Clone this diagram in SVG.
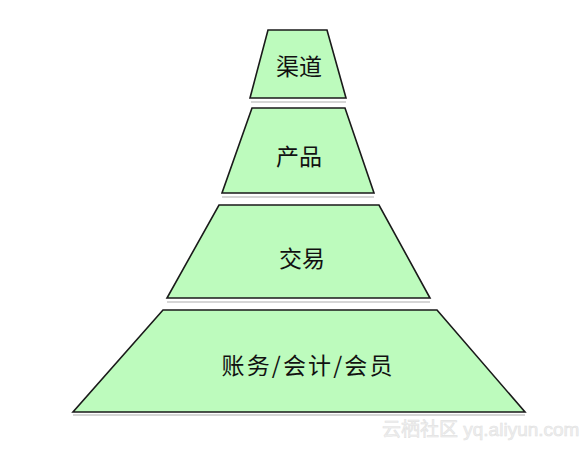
<svg xmlns="http://www.w3.org/2000/svg" width="587" height="450" viewBox="0 0 587 450">
<style>
.tier{fill:#bdfbbd;stroke:#1a1a1a;stroke-width:1.6;stroke-linejoin:miter}
.shadow{stroke:#d6d6d6;stroke-width:2;fill:none}
.label{font-family:"Noto Sans CJK SC","Noto Sans",sans-serif;font-size:23px;fill:#111;text-anchor:middle;dominant-baseline:central}
.wm{font-family:"Liberation Sans","Noto Sans CJK SC",sans-serif;font-size:19px;fill:#f0f0f0;stroke:#e2e2e2;stroke-width:0.6}
</style>
<rect width="587" height="450" fill="#ffffff"/>
<g id="shadows">
<line class="shadow" x1="251" y1="102" x2="346" y2="102"/>
<line class="shadow" x1="222" y1="197" x2="374" y2="197"/>
<line class="shadow" x1="167" y1="302" x2="430" y2="302"/>
<line class="shadow" x1="73" y1="415" x2="525" y2="415"/>
</g>
<g id="tier-channel">
<polygon class="tier" points="268,30 327,30 346,98 250,98"/>
<text class="label" x="299" y="65">渠道</text>
</g>
<g id="tier-product">
<polygon class="tier" points="252,108 345,108 374,193 222,193"/>
<text class="label" x="299" y="155">产品</text>
</g>
<g id="tier-trade">
<polygon class="tier" points="219,205 379,205 430,298 167,298"/>
<text class="label" x="302" y="257">交易</text>
</g>
<g id="tier-account">
<polygon class="tier" points="163,310 437,310 525,412 73,412"/>
<text class="label" x="307" y="364" textLength="171" lengthAdjust="spacing">账务/会计/会员</text>
</g>
<text class="wm" x="382" y="436">云栖社区 yq.aliyun.com</text>
</svg>
